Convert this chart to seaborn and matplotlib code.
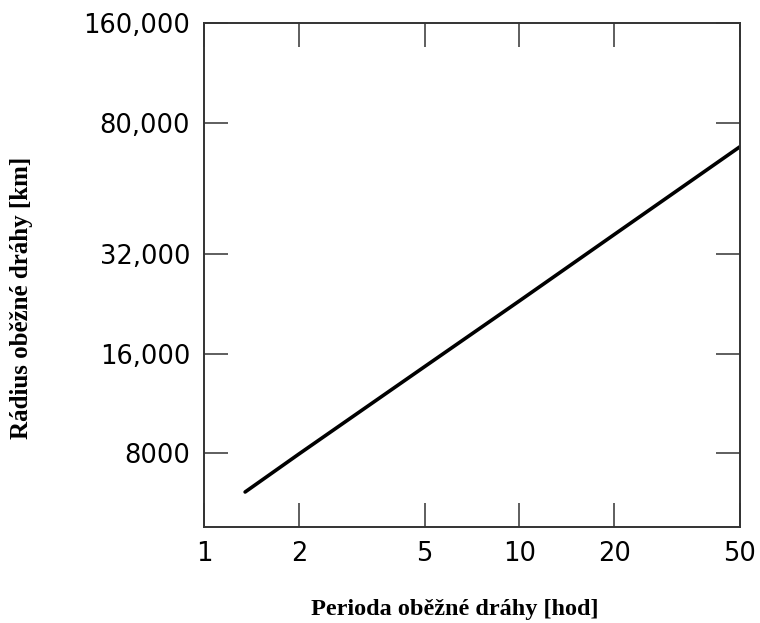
import matplotlib
matplotlib.use("Agg")
import matplotlib.pyplot as plt
import seaborn as sns
import pandas as pd

# Data (log-log line)
period_h = [1.35, 2, 5, 10, 20, 50]
radius_km = [6100, 7950, 14600, 23100, 36700, 67600]

x_ticks = [1, 2, 5, 10, 20, 50]
x_tick_labels = ["1", "2", "5", "10", "20", "50"]
y_ticks = [8000, 16000, 32000, 80000, 160000]
y_tick_labels = ["8000", "16,000", "32,000", "80,000", "160,000"]

df = pd.DataFrame({"T": period_h, "R": radius_km})

sns.set_style("white")
fig = plt.figure(figsize=(7.6, 6.23), dpi=100)
ax = fig.add_axes([204 / 760, 1 - 527 / 623, (740 - 204) / 760, (527 - 23) / 623])

sns.lineplot(data=df, x="T", y="R", ax=ax, color="black", linewidth=2.6)

ax.set_xscale("log")
ax.set_yscale("log")
ax.set_xlim(1, 50)
ax.set_ylim(4780, 160000)
ax.minorticks_off()
ax.set_xticks(x_ticks)
ax.set_xticklabels(x_tick_labels)
ax.set_yticks(y_ticks)
ax.set_yticklabels(y_tick_labels)
ax.minorticks_off()

ax.tick_params(axis="both", which="major", direction="in", length=17, width=1.1,
               color="#333333", bottom=True, left=True, top=True, right=True,
               labeltop=False, labelright=False, labelbottom=True, labelleft=True,
               pad=10, labelsize=18.5, labelcolor="black")
for lab in ax.get_xticklabels() + ax.get_yticklabels():
    lab.set_fontfamily("DejaVu Sans")

for sp in ax.spines.values():
    sp.set_visible(True)
    sp.set_color("#333333")
    sp.set_linewidth(1.4)

ax.set_xlabel("")
ax.set_ylabel("")
fig.text(455 / 760, 1 - 610 / 623, "Perioda oběžné dráhy [hod]", ha="center", va="center",
         fontsize=17.5, fontweight="bold", family="Liberation Serif", color="black")
fig.text(22 / 760, 1 - 298 / 623, "Rádius oběžné dráhy [km]", ha="center", va="center",
         rotation=90, fontsize=18, fontweight="bold", family="Liberation Serif", color="black")

fig.savefig("out.png", dpi=100, facecolor="white")
